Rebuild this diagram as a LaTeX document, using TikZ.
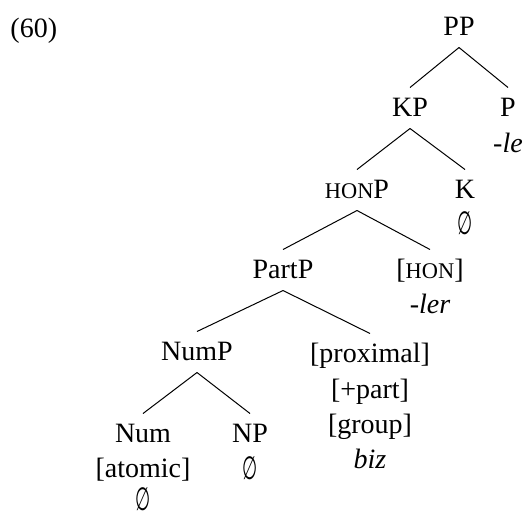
\documentclass[tikz,border=0pt]{standalone}
\usepackage{fontspec}
\setmainfont{Liberation Serif}
\newfontfamily\symfont{DejaVu Sans}
\usepackage{tikz}
\usetikzlibrary{positioning}
\tikzset{cat/.style={
    anchor=base,
    inner sep=0pt,
    text height=14pt,
    text depth=6pt
}}
\tikzset{feat/.style={
    anchor=base,
    inner sep=0pt
}}
\newcommand{\hon}{{\fontsize{11.2pt}{14pt}\selectfont HON}}
\newcommand{\nullexp}{\raisebox{-1pt}{\scalebox{0.62}[1.15]{\symfont ∅}}}

\begin{document}
\begin{tikzpicture}[
    x=0.5pt, y=-0.5pt,
    line width=0.5pt, black,
    font=\fontsize{14pt}{17.5pt}\selectfont,
]
    \useasboundingbox (0,0) rectangle (523,516);
    \node (ex) [feat, anchor=base west] at (10,37) {(60)};
    % Tree positions
    \node (PP)    [cat] at (459,35)  {PP};
    \node (KP)    [cat] at (410,116) {KP};
    \node (P)     [cat] at (508,116) {P};
    \node (HONP)  [cat] at (357,198) {\hon P};
    \node (K)     [cat] at (465,198) {K};
    \node (PartP) [cat] at (283,278) {PartP};
    \node (HON)   [cat] at (430,278) {[\hon]};
    \node (NumP)  [cat] at (197,360) {NumP};
    \node (prox)  [cat] at (370,362) {[proximal]};
    \node (Num)   [cat] at (143,442) {Num};
    \node (NP)    [cat] at (250,442) {NP};
    % Features and exponents
    \node (Pexp)   [feat] at (508,152) {\itshape -le};
    \node (Kexp)   [feat] at (465,232) {\nullexp};
    \node (HONexp) [feat] at (430,313) {\itshape -ler};
    \node (part)   [feat] at (370,398) {[+part]};
    \node (group)  [feat] at (370,433) {[group]};
    \node (biz)    [feat] at (370,468) {\itshape biz};
    \node (atomic) [feat] at (143,477) {[atomic]};
    \node (Numexp) [feat] at (143,508) {\nullexp};
    \node (NPexp)  [feat] at (250,477) {\nullexp};
    % Branches
    \draw (PP.south) -- (KP.north);
    \draw (PP.south) -- (P.north);
    \draw (KP.south) -- (HONP.north);
    \draw (KP.south) -- (K.north);
    \draw (HONP.south) -- (PartP.north);
    \draw (HONP.south) -- (HON.north);
    \draw (PartP.south) -- (NumP.north);
    \draw (PartP.south) -- (prox.north);
    \draw (NumP.south) -- (Num.north);
    \draw (NumP.south) -- (NP.north);
\end{tikzpicture}
\end{document}
